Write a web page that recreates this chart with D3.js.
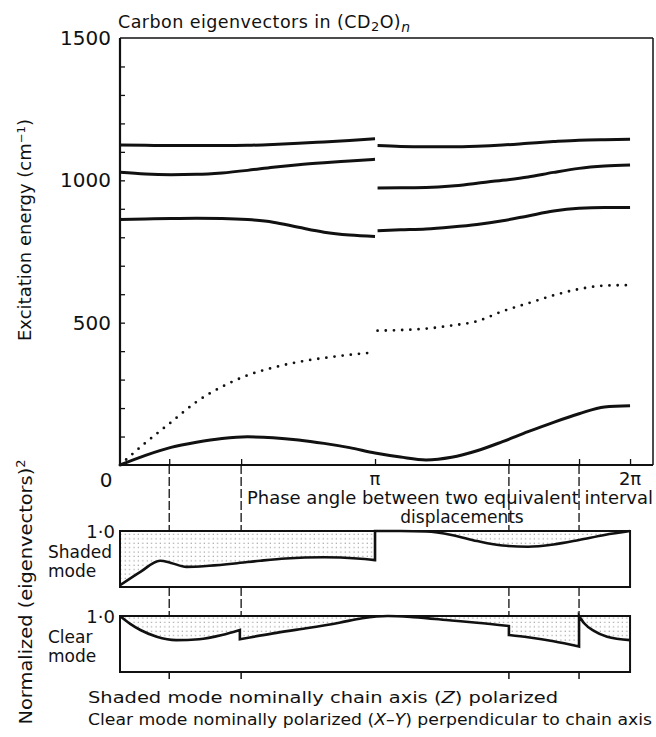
<!DOCTYPE html>
<html>
<head>
<meta charset="utf-8">
<script src="https://cdn.jsdelivr.net/npm/d3@7/dist/d3.min.js"></script>
<style>
body { margin: 0; background: #fff; }
text { font-family: "DejaVu Sans", sans-serif; fill: #111; }
</style>
</head>
<body>
<svg id="chart" width="656" height="737"></svg>
<script>
// phase angle, in units of pi
var phaseLeft = [0, 0.1, 0.2, 0.3, 0.4, 0.5, 0.6, 0.7, 0.8, 0.9, 1.0];
var phaseRight = [1.01, 1.1, 1.2, 1.3, 1.4, 1.5, 1.6, 1.7, 1.8, 1.9, 2.0];
var phaseFull = [0, 0.1, 0.2, 0.3, 0.4, 0.5, 0.6, 0.7, 0.8, 0.9, 1.0,
    1.1, 1.2, 1.3, 1.4, 1.5, 1.6, 1.7, 1.8, 1.9, 2.0];

// excitation energies (cm-1)
var topLeft = [1124, 1123, 1122, 1122, 1122, 1123, 1126, 1130, 1135, 1140, 1146];
var topRight = [1122, 1119, 1118, 1118, 1120, 1124, 1130, 1136, 1141, 1143, 1144];
var secondLeft = [1028, 1022, 1020, 1021, 1026, 1035, 1046, 1055, 1062, 1068, 1074];
var secondRight = [973, 974, 975, 980, 990, 1000, 1012, 1028, 1042, 1050, 1054];
var thirdLeft = [862, 864, 866, 867, 866, 862, 853, 835, 818, 808, 803];
var thirdRight = [823, 826, 829, 836, 845, 858, 875, 892, 902, 905, 905];
var dottedLeft = [0, 78, 150, 222, 275, 315, 342, 362, 376, 387, 396];
var dottedRight = [472, 474, 479, 490, 505, 540, 568, 596, 618, 630, 632];
var lowest = [0, 34, 62, 80, 93, 99, 96, 88, 76, 61, 42, 28, 18, 27, 50, 82, 117, 150, 180, 204, 208];

// normalized (eigenvectors)^2, shaded mode, two pieces
var shadedPhase1 = [0, 0.08, 0.157, 0.2, 0.26, 0.35, 0.45, 0.55, 0.65, 0.8, 0.93, 1.0];
var shadedValue1 = [0.03, 0.27, 0.47, 0.43, 0.36, 0.38, 0.42, 0.47, 0.51, 0.53, 0.51, 0.48];
var shadedPhase2 = [1.0, 1.1, 1.2, 1.3, 1.4, 1.5, 1.6, 1.7, 1.8, 1.9, 2.0];
var shadedValue2 = [1, 1, 0.99, 0.93, 0.82, 0.74, 0.72, 0.76, 0.84, 0.93, 1.0];

// clear mode, four pieces
var clearPhase1 = [0, 0.04, 0.08, 0.144, 0.22, 0.31, 0.4, 0.47];
var clearValue1 = [1, 0.86, 0.75, 0.63, 0.57, 0.585, 0.66, 0.75];
var clearPhase2 = [0.47, 0.6, 0.73, 0.86, 0.95, 1.05, 1.15, 1.3, 1.4, 1.525];
var clearValue2 = [0.585, 0.69, 0.78, 0.88, 0.96, 1.0, 0.98, 0.92, 0.88, 0.82];
var clearPhase3 = [1.525, 1.6, 1.7, 1.8];
var clearValue3 = [0.66, 0.62, 0.55, 0.455];
var clearPhase4 = [1.8, 1.82, 1.86, 1.91, 2.0];
var clearValue4 = [1, 0.87, 0.73, 0.63, 0.57];

var guidePhases = [0.193, 0.475, 1.525, 1.8];
var xTickPhases = [0.193, 0.475, 1, 1.525, 1.8, 2];
var yLabels = [500, 1000, 1500];
var xLabels = [{p: 1, t: "π"}, {p: 2, t: "2π"}];

var svg = d3.select("#chart");

var x = d3.scaleLinear().domain([0, 2.09]).range([120, 653]);
var y = d3.scaleLinear().domain([0, 1500]).range([465, 38]);
var yShaded = d3.scaleLinear().domain([0, 1]).range([587, 531]);
var yClear = d3.scaleLinear().domain([0, 1]).range([672, 616]);

function zip(a, b) { return a.map(function (d, i) { return [d, b[i]]; }); }

// dot pattern for shading
svg.append("defs").append("pattern")
    .attr("id", "dots")
    .attr("width", 4.4).attr("height", 4.4)
    .attr("patternUnits", "userSpaceOnUse")
    .append("rect")
    .attr("x", 1.5).attr("y", 1.5).attr("width", 1).attr("height", 1)
    .attr("fill", "#777");

// title
var title = svg.append("text").attr("x", 118).attr("y", 28).style("font-size", "17.5px")
    .attr("textLength", 292).attr("lengthAdjust", "spacing");
title.append("tspan").text("Carbon eigenvectors in (CD");
title.append("tspan").attr("baseline-shift", "-25%").style("font-size", "13px").text("2");
title.append("tspan").text("O)");
title.append("tspan").attr("baseline-shift", "-25%").style("font-size", "14px").style("font-style", "italic").text("n");

// top plot frame
svg.append("line").attr("x1", 120).attr("x2", 653).attr("y1", 38).attr("y2", 38).attr("stroke", "#111").attr("stroke-width", 1.5);
svg.append("line").attr("x1", 653).attr("x2", 653).attr("y1", 38).attr("y2", 465).attr("stroke", "#111").attr("stroke-width", 1.5);
svg.append("line").attr("x1", 120).attr("x2", 120).attr("y1", 38).attr("y2", 466).attr("stroke", "#111").attr("stroke-width", 2.2);
svg.append("line").attr("x1", 119).attr("x2", 653).attr("y1", 465).attr("y2", 465).attr("stroke", "#111").attr("stroke-width", 2);

var yAxis = svg.append("g").attr("transform", "translate(120,0)")
    .call(d3.axisRight(y).tickValues(d3.range(100, 1500, 100)).tickSize(5).tickFormat(""));
yAxis.select(".domain").remove();
yAxis.selectAll("line").attr("stroke", "#111").attr("stroke-width", 1.3);

var xAxis = svg.append("g").attr("transform", "translate(0,465)")
    .call(d3.axisTop(x).tickValues(xTickPhases).tickSize(6).tickFormat(""));
xAxis.select(".domain").remove();
xAxis.selectAll("line").attr("stroke", "#111").attr("stroke-width", 1.3);

svg.selectAll(".ylab").data(yLabels).enter().append("text")
    .attr("class", "ylab")
    .attr("x", 111).attr("y", function (d) { return y(d) + 7; })
    .attr("text-anchor", "end").style("font-size", "20px")
    .text(function (d) { return d; });

svg.append("text").attr("x", 106).attr("y", 487).attr("text-anchor", "middle")
    .style("font-size", "20px").text("0");
svg.selectAll(".xlab").data(xLabels).enter().append("text")
    .attr("class", "xlab")
    .attr("x", function (d) { return x(d.p); }).attr("y", 485)
    .attr("text-anchor", "middle").style("font-size", "18px")
    .text(function (d) { return d.t; });

// axis titles
svg.append("text")
    .attr("transform", "translate(31,230) rotate(-90)")
    .attr("text-anchor", "middle").style("font-size", "17px")
    .attr("textLength", 222).attr("lengthAdjust", "spacingAndGlyphs")
    .html('Excitation energy (cm<tspan baseline-shift="super" style="font-size:11px">−1</tspan>)');

svg.append("text")
    .attr("transform", "translate(32,592) rotate(-90)")
    .attr("text-anchor", "middle").style("font-size", "18px")
    .attr("textLength", 265).attr("lengthAdjust", "spacingAndGlyphs")
    .html('Normalized (eigenvectors)<tspan baseline-shift="super" style="font-size:12px">2</tspan>');

svg.append("text").attr("x", 247).attr("y", 504).style("font-size", "17px")
    .attr("textLength", 406).attr("lengthAdjust", "spacingAndGlyphs")
    .text("Phase angle between two equivalent interval");
svg.append("text").attr("x", 462).attr("y", 523).attr("text-anchor", "middle").style("font-size", "17px")
    .text("displacements");

// dispersion curves
var line = d3.line()
    .x(function (d) { return x(d[0]); })
    .y(function (d) { return y(d[1]); })
    .curve(d3.curveMonotoneX);

var solidSets = [
    zip(phaseLeft, topLeft), zip(phaseRight, topRight),
    zip(phaseLeft, secondLeft), zip(phaseRight, secondRight),
    zip(phaseLeft, thirdLeft), zip(phaseRight, thirdRight),
    zip(phaseFull, lowest)
];
svg.selectAll(".band").data(solidSets).enter().append("path")
    .attr("class", "band")
    .attr("d", line)
    .attr("fill", "none").attr("stroke", "#111").attr("stroke-width", 3);

svg.selectAll(".dotted").data([zip(phaseLeft, dottedLeft), zip(phaseRight, dottedRight)]).enter().append("path")
    .attr("class", "dotted")
    .attr("d", line)
    .attr("fill", "none").attr("stroke", "#111").attr("stroke-width", 2.8)
    .attr("stroke-linecap", "round").attr("stroke-dasharray", "0 8.2");

// dashed guides
guidePhases.forEach(function (p) {
    [[465, 531], [587, 616]].forEach(function (r) {
        svg.append("line").attr("x1", x(p)).attr("x2", x(p)).attr("y1", r[0]).attr("y2", r[1])
            .attr("stroke", "#111").attr("stroke-width", 1.3).attr("stroke-dasharray", "9 3");
    });
    svg.append("line").attr("x1", x(p)).attr("x2", x(p)).attr("y1", 672).attr("y2", 679)
        .attr("stroke", "#111").attr("stroke-width", 1.5);
});

// lower panels
function joined(segs, yScale) {
    var g = d3.line()
        .x(function (d) { return x(d[0]); })
        .y(function (d) { return yScale(d[1]); })
        .curve(d3.curveMonotoneX);
    return segs.map(function (s, i) {
        var p = g(s);
        return i ? "L" + p.slice(1) : p;
    }).join("");
}

function panel(segs, yScale, label1, label2) {
    var curve = joined(segs, yScale);
    svg.append("path")
        .attr("d", curve + "L" + x(2) + "," + yScale(1) + "L" + x(0) + "," + yScale(1) + "Z")
        .attr("fill", "url(#dots)").attr("stroke", "none");
    svg.append("rect")
        .attr("x", x(0)).attr("y", yScale(1))
        .attr("width", x(2) - x(0)).attr("height", yScale(0) - yScale(1))
        .attr("fill", "none").attr("stroke", "#111").attr("stroke-width", 2);
    svg.append("path").attr("d", curve)
        .attr("fill", "none").attr("stroke", "#111").attr("stroke-width", 2.6)
        .attr("stroke-linejoin", "miter");
    svg.append("text").attr("x", 115).attr("y", yScale(1) + 7).attr("text-anchor", "end")
        .style("font-size", "18px").text("1·0");
    svg.append("text").attr("x", 48).attr("y", yScale(1) + 27).style("font-size", "17px").text(label1);
    svg.append("text").attr("x", 48).attr("y", yScale(1) + 46).style("font-size", "17px").text(label2);
}

panel([zip(shadedPhase1, shadedValue1), zip(shadedPhase2, shadedValue2)], yShaded, "Shaded", "mode");
panel([zip(clearPhase1, clearValue1), zip(clearPhase2, clearValue2),
       zip(clearPhase3, clearValue3), zip(clearPhase4, clearValue4)], yClear, "Clear", "mode");

// footnotes
svg.append("text").attr("x", 88).attr("y", 703).style("font-size", "16px")
    .attr("textLength", 470).attr("lengthAdjust", "spacingAndGlyphs")
    .html('Shaded  mode nominally chain axis (<tspan font-style="italic">Z</tspan>) polarized');
svg.append("text").attr("x", 88).attr("y", 725).style("font-size", "16px")
    .attr("textLength", 564).attr("lengthAdjust", "spacingAndGlyphs")
    .html('Clear mode nominally polarized (<tspan font-style="italic">X–Y</tspan>) perpendicular to chain axis');
</script>
</body>
</html>
